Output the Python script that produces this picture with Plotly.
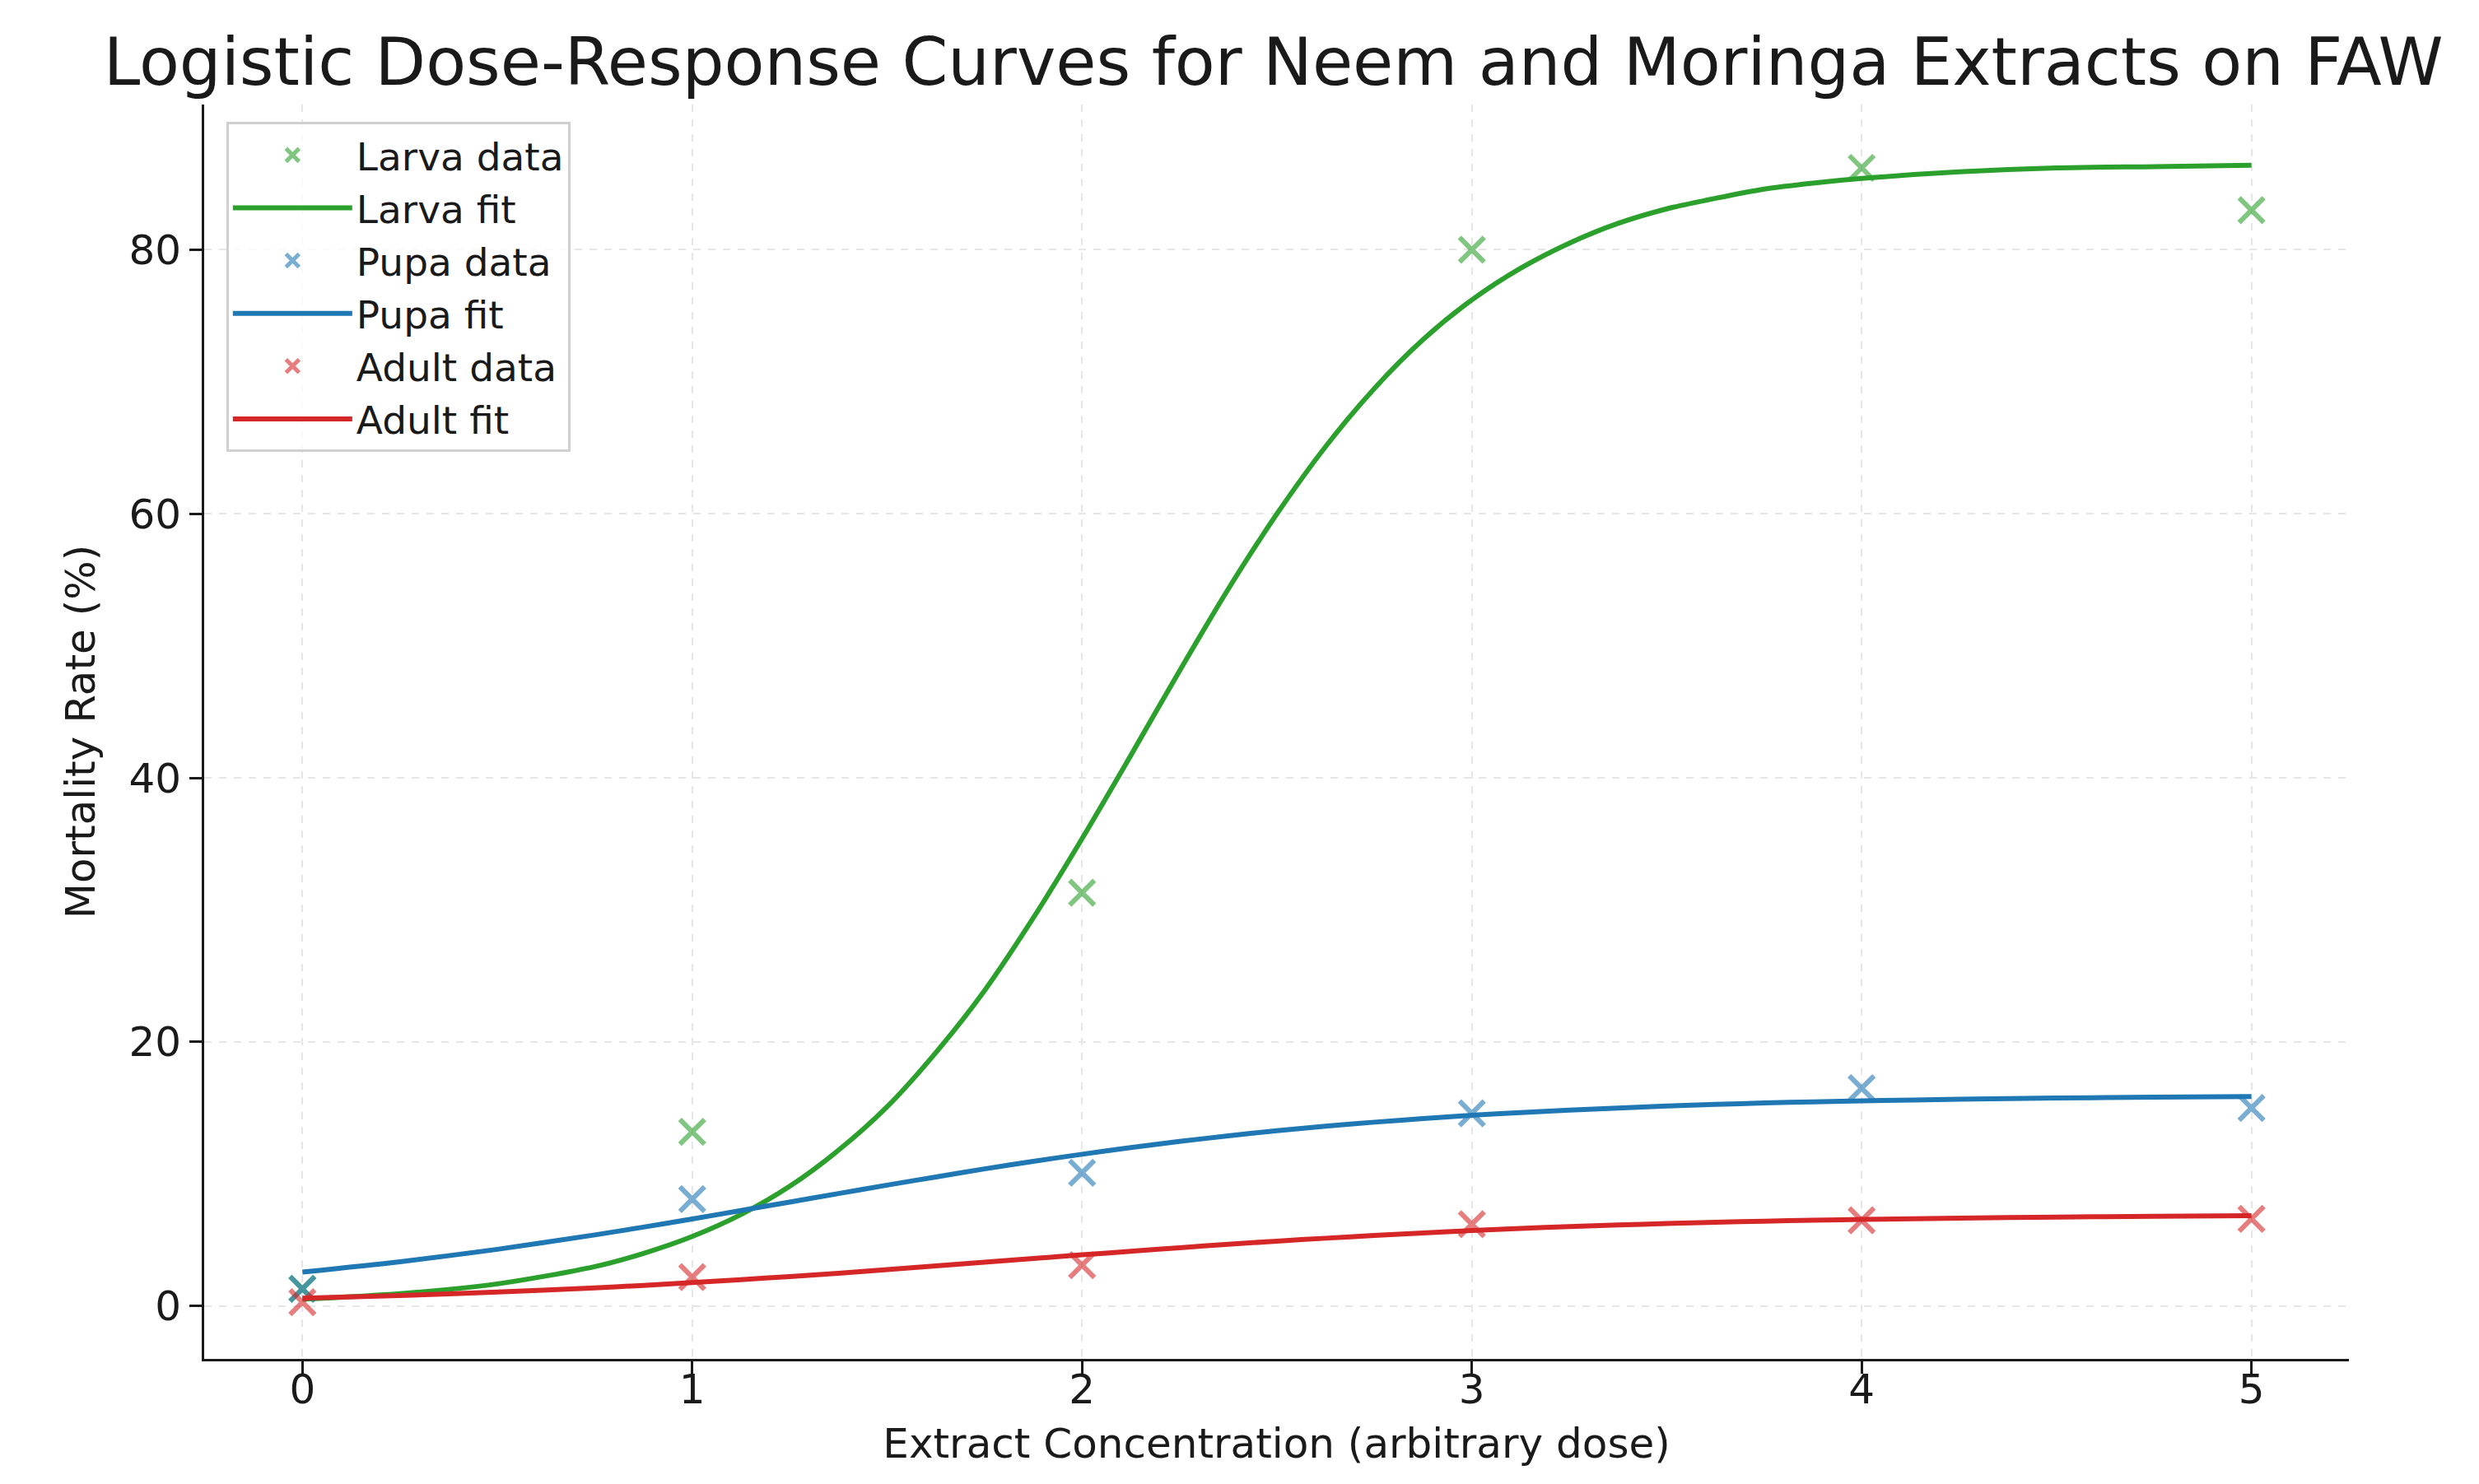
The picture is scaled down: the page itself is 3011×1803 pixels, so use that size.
import plotly.graph_objects as go

# ---- data ----
doses = [0, 1, 2, 3, 4, 5]
larva_data = [1.3, 13.2, 31.3, 80.0, 86.2, 83.0]
pupa_data = [1.3, 8.1, 10.1, 14.6, 16.5, 15.0]
adult_data = [0.3, 2.2, 3.1, 6.2, 6.5, 6.6]

fit_x = [0, 0.25, 0.5, 0.75, 0.875, 1.0, 1.125, 1.25, 1.375, 1.5, 1.625, 1.75, 1.875,
         2.0, 2.125, 2.25, 2.375, 2.5, 2.625, 2.75, 2.875, 3.0, 3.125, 3.25, 3.375,
         3.5, 3.625, 3.75, 3.875, 4.0, 4.25, 4.5, 4.75, 5.0]
larva_fit = [0.52, 0.94, 1.68, 2.99, 3.99, 5.27, 6.93, 9.07, 11.8, 15.1, 19.2, 23.9, 29.4,
             35.4, 41.7, 48.1, 54.3, 60.0, 65.1, 69.5, 73.2, 76.2, 78.6, 80.5, 82.0,
             83.1, 83.9, 84.6, 85.05, 85.4, 85.9, 86.2, 86.3, 86.4]
pupa_fit = [2.58, 3.36, 4.30, 5.39, 5.98, 6.60, 7.24, 7.88, 8.52, 9.16, 9.78, 10.39, 10.96,
            11.5, 12.0, 12.47, 12.89, 13.28, 13.62, 13.93, 14.2, 14.45, 14.66, 14.84, 15.0,
            15.15, 15.27, 15.38, 15.47, 15.54, 15.67, 15.76, 15.82, 15.87]
adult_fit = [0.60, 0.80, 1.06, 1.38, 1.57, 1.78, 2.0, 2.24, 2.49, 2.76, 3.04, 3.32, 3.60,
             3.88, 4.15, 4.42, 4.68, 4.92, 5.14, 5.35, 5.54, 5.72, 5.88, 6.02, 6.14,
             6.25, 6.35, 6.43, 6.50, 6.56, 6.66, 6.74, 6.80, 6.84]

x_ticks = [0, 1, 2, 3, 4, 5]
y_ticks = [0, 20, 40, 60, 80]

title = "Logistic Dose-Response Curves for Neem and Moringa Extracts on FAW"
x_title = "Extract Concentration (arbitrary dose)"
y_title = "Mortality Rate (%)"

series = [
    ("Larva", larva_data, larva_fit, "44,160,44"),
    ("Pupa", pupa_data, pupa_fit, "31,119,180"),
    ("Adult", adult_data, adult_fit, "214,39,40"),
]

FONT = "DejaVu Sans"
TXT = "#1a1a1a"

fig = go.Figure()
for name, dat, fit, rgb in series:
    fig.add_trace(go.Scatter(
        x=doses, y=dat, mode="markers", name=f"{name} data",
        marker=dict(symbol="x-thin", size=30,
                    line=dict(width=6, color=f"rgba({rgb},0.6)"),
                    color=f"rgba({rgb},0.6)"),
    ))
    fig.add_trace(go.Scatter(
        x=fit_x, y=fit, mode="lines", name=f"{name} fit",
        line=dict(color=f"rgb({rgb})", width=6, shape="spline", smoothing=0.8),
    ))

axis_common = dict(
    showline=True, linecolor="#1a1a1a", linewidth=3, mirror=False,
    ticks="outside", ticklen=15, tickwidth=3, tickcolor="#1a1a1a",
    showgrid=True, gridcolor="#e6e6e6", gridwidth=2, griddash="dash",
    zeroline=False,
    tickfont=dict(family=FONT, size=50, color=TXT),
)

fig.update_layout(
    width=3011, height=1803,
    paper_bgcolor="white", plot_bgcolor="white",
    margin=dict(l=240, r=166, t=119, b=160),
    title=dict(text=title, x=0.511, xanchor="center", y=0.963, yanchor="middle",
               font=dict(family=FONT, size=80, color=TXT)),
    xaxis=dict(range=[-0.252, 5.25], tickvals=x_ticks, ticklabelstandoff=-24,
               title=dict(text=x_title, font=dict(family=FONT, size=50, color=TXT), standoff=20),
               **axis_common),
    yaxis=dict(range=[-4.0, 91.0], tickvals=y_ticks,
               title=dict(text=y_title, font=dict(family=FONT, size=50, color=TXT), standoff=25),
               **axis_common),
    legend=dict(x=0.0103, y=0.986, xanchor="left", yanchor="top",
                bgcolor="rgba(255,255,255,0.8)", bordercolor="#d0d0d0", borderwidth=3,
                font=dict(family=FONT, size=47, color=TXT),
                itemwidth=145, tracegroupgap=0),
    showlegend=True,
)

fig.write_html("out.html")
